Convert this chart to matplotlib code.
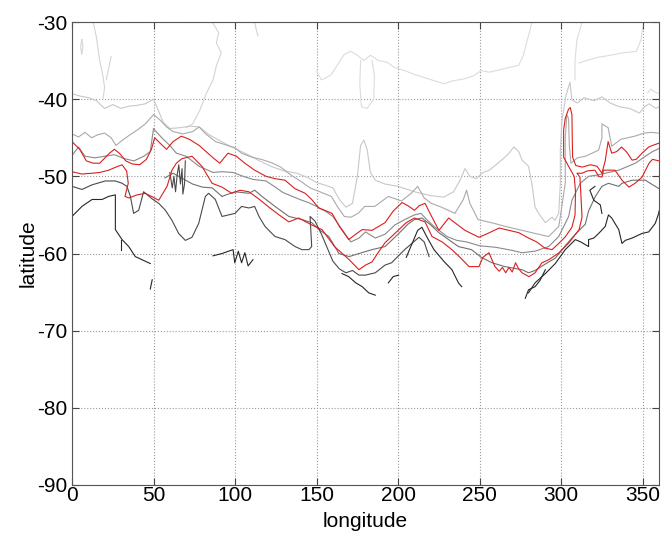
import matplotlib
matplotlib.use('Agg')
import matplotlib.pyplot as plt
import numpy as np

# ---- contour-like front lines (lon, lat) ----
vl_top = [(150, -36.4), (153, -37.5), (156, -37.2), (159, -36.8), (163, -35.5), (167, -34.2), (171, -33.8),
          (175, -34.3), (179, -35), (183, -34.3), (188, -35), (193, -35.2), (198, -35.9), (204, -36.3),
          (210, -36.8), (216, -37.2), (222, -37.6), (228, -38), (234, -37.6), (240, -37.4), (246, -37),
          (251, -36.3), (256, -36.5), (262, -36.2), (268, -35.9), (274, -35.6), (277, -34.2), (279, -32.5),
          (281, -31), (282, -30)]
vl_pend = [(177, -35), (176.5, -38), (177.5, -41), (181, -41.2), (185, -40), (185.5, -37), (184, -35)]
vl_left = [(13, -30), (15, -32), (17, -35), (19, -37), (20, -38.5), (19, -40)]
vl_left2 = [(24, -34.5), (22.5, -36), (21, -37.5)]
vl_loop = [(6, -32.3), (5.3, -33.2), (6, -34.2), (6.7, -33.2), (6, -32.3)]
vl_mid = [(86, -30), (90, -31.4), (88.5, -32.7), (91.5, -34), (88.5, -35.7), (86.5, -37.5), (82.5, -39.2),
          (78.5, -41.4), (74, -43.2), (70, -43.7)]
vl_short = [(112, -30), (113, -31), (114, -31.8)]
vl_east = [(312.8, -30), (309.7, -32.3), (308.5, -34.9), (308.5, -37.5)]
vl_east2 = [(311, -35.3), (317, -34.9), (322, -34.6), (327.6, -34.4), (333, -34.2), (337.8, -34),
            (342, -33.9), (346, -33.8), (349, -32.3), (350, -30.5)]
vl_east3 = [(353, -39.2), (355, -38.7), (357, -39), (360, -39.3)]

g1 = [(0, -39.3), (5, -39.6), (10, -39.8), (15, -40.2), (20, -41.2), (25, -40.7), (30, -41.2), (35, -40.9),
      (40, -40.8), (45, -40.6), (50, -40.0), (53, -41.5), (56, -43), (60, -43.8), (66, -43.7), (72, -43.5),
      (78, -43.6), (84, -44.6), (90, -45.3), (96, -46), (102, -46.6), (108, -47.2), (115, -48), (122, -48.7),
      (130, -49.3), (138, -49.6), (145, -50.2), (150, -50.8), (156, -51.2), (160, -51.5), (164, -53),
      (168, -54), (172, -53.5), (175, -50), (177, -46), (179, -45.3), (181, -46.5), (183, -49.5), (186, -50.5),
      (192, -51), (200, -51.3), (210, -52), (220, -52.5), (228, -52.7), (234, -52), (238, -50.5), (241, -49),
      (244, -50), (248, -50.3), (252, -49.5), (256, -49.2), (260, -48.5), (264, -47.8), (268, -47),
      (271, -46.2), (274, -46.8), (276, -47.9), (280, -48.7), (282, -50.9), (284, -54), (286.2, -54.8),
      (290.3, -56), (294.4, -55.3), (296.2, -55.7), (298.5, -54.8), (299.5, -50.9), (299.5, -46.6),
      (300.5, -42.7), (303, -39.5), (305.4, -37.8), (306.6, -40.1), (310, -40.5), (314, -39.8), (320, -40.2),
      (325, -39.7), (330, -40.5), (336, -41), (342, -41.2), (348, -41.8), (351, -41), (354, -40.6),
      (358, -41.2), (360, -41)]

g2 = [(0, -44.5), (4, -44.9), (8, -44.3), (12, -45), (16, -44.6), (20, -44.4), (24, -45), (27, -46),
      (31, -45.3), (35, -44.7), (40, -44), (45, -43.2), (50, -42), (54, -42.7), (58, -43.6), (62, -44.2),
      (68, -44.5), (74, -44.2), (78, -43.6), (82, -44.5), (88, -45.5), (94, -45.9), (100, -46.3),
      (104, -47), (110, -47.5), (116, -47.8), (122, -48.2), (128, -48.8), (134, -49.8), (140, -50.6),
      (146, -51.5), (152, -52), (159, -52.6), (163, -54), (167, -55.2), (171, -55.3), (175.5, -54.8),
      (179.5, -53.9), (185.7, -53.9), (194, -52.6), (202, -53.2), (208, -52.2), (212, -51.3), (216, -52.8),
      (220.4, -53.5), (226.6, -54), (234.8, -54.8), (240, -53), (242, -51.8), (244, -53.5), (249, -55.6),
      (259, -56.1), (266, -56.5), (276, -57), (284, -57.4), (292.3, -57.8), (298.5, -56.5), (299.5, -55.2),
      (302.5, -50.9), (302.5, -45), (303.5, -42), (304.5, -42.5), (305, -46), (306, -48.3), (310, -47.6),
      (314.8, -47.4), (319, -47), (323, -46.6), (325, -45), (325, -43.2), (328.8, -43.7), (331, -46.1),
      (336.6, -45.2), (345, -44.8), (351, -44.4), (355, -44.3), (360, -44.4)]

g3 = [(0, -47.3), (4, -46.2), (8, -47.4), (14, -47.6), (20, -47.4), (26, -47.2), (32, -47.7), (38, -48),
      (44, -47.4), (48, -46.8), (50, -43.8), (52, -44.3), (56, -45.2), (60, -46), (64, -47), (70, -47.4),
      (78, -48.7), (86.5, -49.5), (92, -49.4), (98.8, -49.5), (105, -50), (111, -50.4), (119, -50.6),
      (124, -51.3), (129.4, -52.1), (134, -52.5), (139.7, -53), (145, -53.4), (150, -53.9), (156, -54.6),
      (160, -55.2), (166, -57), (171, -58.5), (176, -58), (180, -57.2), (186, -58), (192, -57.5),
      (198, -56.3), (205, -55.5), (210, -55), (214, -54.8), (218, -55.7), (222, -56.5), (230, -57.8),
      (236, -58.3), (242, -58.5), (250, -59), (260, -59.2), (270, -59.6), (276, -59.9), (284, -59.7),
      (292.3, -59.1), (298.5, -57.8), (304.6, -55.2), (306.6, -53.1), (311.7, -50.9), (316.8, -50),
      (323, -49.8), (327, -49.6), (335.3, -49.2), (345.5, -48.3), (351.6, -47.4), (356, -46.8), (360, -46.4)]

red_a = [(0, -45.5), (4.7, -46.5), (8.8, -48), (13, -48.3), (17, -48.3), (23, -47), (26, -46.5), (29, -47),
         (33, -48), (37, -48.4), (41.5, -48.5), (45.6, -47.8), (48.7, -46.5), (50.7, -45), (54, -45.7),
         (58, -46.5), (62, -45.5), (67, -44.8), (72, -45.2), (78, -46), (86.5, -47.6), (90.6, -48.3),
         (95.7, -47), (100.8, -47.4), (106, -48.3), (112, -49.2), (119, -50), (124.5, -50.3), (130.6, -50.5),
         (136.8, -51.6), (143, -52.2), (147, -53), (151.3, -54.1), (155, -54.4), (159.5, -54.8), (164, -56.5),
         (169.7, -58.2), (174, -57.5), (178, -56.9), (184, -57), (192, -56), (197, -54.5), (202.4, -53.4),
         (206, -53.8), (210, -54.4), (213, -53.8), (216.5, -53.5), (220.8, -55.3), (225, -57), (231, -55.4),
         (236, -56.2), (241, -57), (249.6, -57.9), (255, -57.4), (262, -56.7), (268, -57), (274, -57.3),
         (280, -58), (285, -58.5), (290, -59.3), (294.4, -59.5), (298, -58.8), (302.3, -57.9), (306.6, -56.6),
         (308.5, -55), (308.8, -52), (308, -50), (304, -48.5), (301.5, -47.5), (301.5, -44), (302.5, -42.5),
         (304.5, -41.3), (305.6, -41.1), (306.6, -42), (306.8, -45), (307, -47.5), (309, -48.6), (313, -48.8),
         (318, -48.5), (322, -48.7), (325, -49.6), (327, -48), (328.8, -45.5), (331, -47), (334, -46.8),
         (337, -46.2), (340, -46.8), (343.5, -47.9), (346, -47.8), (349.6, -47), (353.7, -46.2), (356, -46),
         (360, -45.7)]

red_b = [(0, -49.4), (6, -49.7), (12.3, -49.6), (17, -49.5), (22.5, -49.2), (27, -48.8), (30.7, -48.5),
         (33.5, -49.3), (34.5, -50.9), (32.5, -52.6), (34.8, -52.8), (40, -52.4), (45, -52.2), (49.7, -52.7),
         (53.2, -53.1), (58.3, -51.3), (61.3, -49.2), (64, -48.3), (67.5, -47.7), (73.6, -47.4), (79.7, -48.7),
         (85.9, -50.9), (92, -51.4), (98, -52.2), (103, -51.8), (108.5, -52), (115, -53), (120.8, -54),
         (127, -55), (133, -55.9), (139, -55.4), (147, -56.3), (153.3, -56.9), (161, -59.1), (170, -60.8),
         (176, -62.1), (180, -61.5), (184, -61.1), (188, -59.8), (192, -58.6), (200, -57), (205, -56),
         (210, -55.4), (216.5, -55.9), (220.8, -57.8), (227, -58.5), (233, -59.5), (238, -60.5), (243.5, -61.7),
         (249.6, -61.7), (252, -60.5), (255.7, -59.9), (259.4, -61.7), (262, -62.3), (264, -61.8),
         (266, -62.5), (268, -61.8), (270, -62.4), (272, -61.2), (274, -62), (276, -62.5), (280.3, -63),
         (284, -62.5), (288.2, -61.2), (292.5, -60.8), (298.7, -59.9), (304.8, -58.6), (311, -56.9),
         (312.8, -55.3), (312, -52), (311.5, -50.1), (309.7, -49.6), (312.8, -49.6), (316, -49.3),
         (320.7, -49.2), (323, -50), (325, -50.1), (326, -49.2), (333, -49.2), (337.3, -50.5), (341.6, -51.4),
         (345.3, -50.9), (349.6, -50.1), (353.9, -48.3), (356, -47.8), (360, -48)]

d2 = [(92, -52.6), (100, -52), (108.5, -52.2), (112, -51.8), (116.5, -52.6), (124.5, -53.9), (133, -55.2),
      (141, -55.6), (147, -56), (151.5, -56.9), (157.5, -57.8), (163.7, -60), (170, -60.4), (176, -60),
      (184, -59.5), (192, -59.1), (200, -57.5), (206, -56.2), (210, -55.6), (214.6, -55.4), (220, -56.3),
      (225, -57.3), (231, -58.2), (237, -59.1), (245, -59.5), (251, -60.5), (257.6, -61.2), (265.5, -61.7),
      (276, -62.1), (280, -62.5), (284, -62.2), (290, -61.4), (296.4, -60.6), (302.5, -59), (308.7, -57.5),
      (314.8, -56.2), (316.8, -54.5), (321, -52.6), (325, -51.3), (329, -50.9), (335.3, -51.3),
      (337.3, -50.9), (343.5, -50.5), (351.6, -50.5), (357.7, -51.3), (360, -51.6)]
d2_west = [(57, -50.2), (62, -49.6), (68, -50.3), (74, -51), (80, -51.4), (86, -51.5), (92, -52.6)]

d1 = [(0, -51.3), (6.1, -51.7), (12.3, -51.1), (20.4, -50.6), (26.6, -50.6), (30.7, -50.9), (33.7, -51.3),
      (35.8, -52.6), (37.8, -54.8), (40.9, -54.4), (43.9, -52), (49, -52.9), (53.2, -53.5), (57.3, -54.4),
      (61.3, -55.7), (65.4, -57.4), (69.5, -58.3), (73.6, -57.9), (77.7, -56.1), (81.8, -52.6),
      (83.8, -52.2), (87.9, -53), (92, -55.2), (100, -54.8), (104, -53.9), (108.5, -54.1), (112, -53.9),
      (114.7, -55.2), (118.4, -56.5), (124.5, -57.8), (130.6, -58.2), (136.8, -59.1), (141, -59.5),
      (145.3, -59.5), (147, -59.1), (146, -55.2), (149, -55.8), (153, -57.5), (157, -59.5), (160, -61),
      (164, -62), (168, -62.5), (172, -62.2), (176, -62.8), (180, -62.8), (186, -62.5), (192, -61.5),
      (196, -61.2), (204, -59.5), (212.8, -57.9), (216, -58.5), (219, -60.4)]

k1 = [(0, -55.2), (6.1, -53.9), (12.3, -53), (18.4, -53), (22.5, -52.6), (26.6, -52.4), (26.6, -56.9),
      (30.7, -58.2), (34.8, -59.1), (38.8, -60.4), (42.9, -60.8), (48, -61.3)]
k_peak = [(205, -60.5), (209, -58.5), (212, -57), (214.6, -56.6), (218, -58), (222, -59.5), (228, -61),
          (233, -62.1), (237, -63.8), (239, -64.3)]
k_bottom = [(165.6, -62.6), (169.7, -63), (174, -63.8), (178, -64.3), (182, -65.1), (186, -65.4)]
k_bot2 = [(194, -63.8), (197, -63), (200.3, -62.8)]
k_bot3 = [(278, -65.8), (280, -64.7), (284, -64.3), (287, -63.5), (290.3, -62.1)]
k_east = [(280, -65.1), (284, -63.8), (290.3, -62.6), (296.4, -61.3), (302.5, -59.5), (308.7, -58.2),
          (312, -58.5), (316.8, -59.1), (316.8, -58.2), (320, -58), (323, -57.4), (327, -56.5), (329, -55),
          (331, -55.4), (335.3, -56.9), (337.3, -58.7), (339.3, -58.3), (343.5, -58), (349.6, -57.4),
          (353.7, -57.2), (357.7, -56.1), (359.8, -54.8), (360, -54.5)]
k_east2 = [(320.7, -51.3), (317.6, -51.8), (320, -53.1), (324, -53.7), (325, -54.8)]
k_wiggle = [(86.5, -60.3), (92, -60), (98.8, -59.5), (99.8, -61.2), (102, -59.7), (104, -61.2),
            (106, -59.9), (108, -61.6), (111, -60.8)]
k_tick = [(30.3, -58.2), (30.3, -59.5)]
k_dash = [(48, -64.6), (49.2, -63.4)]
w1 = [(60, -49.5), (61.5, -51.5), (62.5, -50), (63.5, -52), (64.5, -49.8), (65.5, -48.5), (66.5, -51),
      (67.5, -49), (68, -52.3), (69, -51), (69.5, -48)]

lines = [
    (vl_top, '#dcdcdc'), (vl_pend, '#dcdcdc'), (vl_left, '#d4d4d4'), (vl_left2, '#d4d4d4'),
    (vl_loop, '#d4d4d4'), (vl_mid, '#d4d4d4'), (vl_short, '#d4d4d4'), (vl_east, '#dcdcdc'),
    (vl_east2, '#dcdcdc'), (vl_east3, '#dcdcdc'),
    (g1, '#c8c8c8'), (g2, '#aaaaaa'), (g3, '#8a8a8a'), (d2_west, '#707070'), (d2, '#707070'),
    (d1, '#4a4a4a'), (w1, '#4a4a4a'),
    (k1, '#262626'), (k_peak, '#262626'), (k_bottom, '#262626'), (k_bot2, '#262626'),
    (k_bot3, '#262626'), (k_east, '#262626'), (k_east2, '#262626'), (k_wiggle, '#262626'),
    (k_tick, '#262626'), (k_dash, '#262626'),
    (red_a, '#dc1e1e'), (red_b, '#dc1e1e'),
]

plt.rcParams['font.family'] = ['Liberation Sans', 'DejaVu Sans']
plt.rcParams['axes.unicode_minus'] = False

fig = plt.figure(figsize=(6.64, 5.38), dpi=100)
ax = fig.add_axes([72 / 664, 1 - 485 / 538, (659 - 72) / 664, (485 - 22) / 538])

for pts, col in lines:
    arr = np.array(pts)
    ax.plot(arr[:, 0], arr[:, 1], color=col, lw=0.8)

ax.set_xlim(0, 360)
ax.set_ylim(-90, -30)
ax.set_xticks(np.arange(0, 351, 50))
ax.set_yticks(np.arange(-90, -29, 10))
ax.grid(True, linestyle=':', color='#9a9a9a', lw=0.8)
ax.tick_params(direction='in', length=5, labelsize=15, color='#444444', top=True, right=True,
               labeltop=False, labelright=False)
ax.tick_params(axis='x', pad=1)
ax.tick_params(axis='y', pad=3)
for s in ax.spines.values():
    s.set_color('#555555')
    s.set_linewidth(0.8)
ax.set_xlabel('longitude', fontsize=15, labelpad=5)
ax.set_ylabel('latitude', fontsize=15, labelpad=0)

fig.savefig('out.png', dpi=100)
